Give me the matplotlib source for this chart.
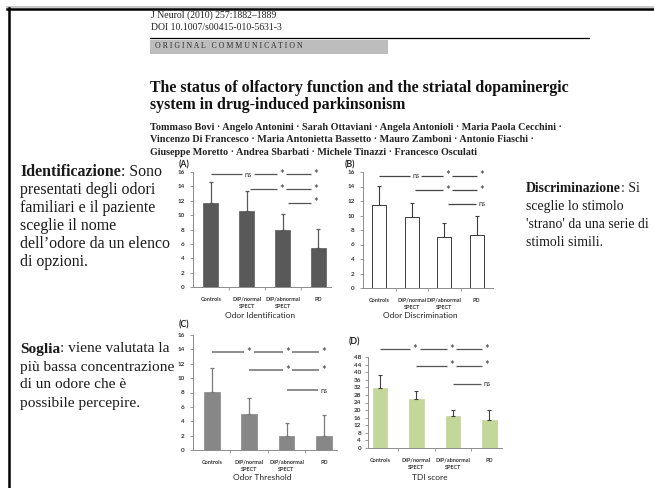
import matplotlib
matplotlib.use('Agg')
import matplotlib.pyplot as plt
from matplotlib.patches import Rectangle
from matplotlib.lines import Line2D

# ---------------- data ----------------
categories = ['Controls', 'DIP/normal\nSPECT', 'DIP/abnormal\nSPECT', 'PD']

ident_mean = [11.7, 10.6, 8.0, 5.4]
ident_err = [2.9, 2.7, 2.1, 2.7]
discr_mean = [11.5, 9.8, 7.0, 7.3]
discr_err = [2.6, 1.9, 1.9, 2.6]
thresh_mean = [8.1, 5.0, 1.9, 1.9]
thresh_err = [3.3, 2.3, 1.9, 3.0]
tdi_mean = [31.4, 25.6, 16.9, 15.0]
tdi_err = [7.2, 4.7, 3.3, 5.0]

ident_sig = [['ns', '*', '*'], ['*', '*'], ['*']]
discr_sig = [['ns', '*', '*'], ['*', '*'], ['ns']]
thresh_sig = [['*', '*', '*'], ['*', '*'], ['ns']]
tdi_sig = [['*', '*', '*'], ['*', '*'], ['ns']]

ident_ticks = list(range(0, 17, 2))
tdi_ticks = list(range(0, 49, 4))

panel_letters = ['(A)', '(B)', '(C)', '(D)']
panel_titles = ['Odor Identification', 'Odor Discrimination', 'Odor Threshold', 'TDI score']

# ---------------- figure ----------------
W, H = 654, 488
fig = plt.figure(figsize=(W / 100, H / 100), dpi=100)
fig.patch.set_facecolor('white')


def fx(x):
    return x / W


def fy(y):
    return 1 - y / H


SERIF = ['Liberation Serif', 'DejaVu Serif']
SANS = ['Lato', 'DejaVu Sans']

# frame
fig.add_artist(Line2D([fx(7), fx(654)], [fy(6.5), fy(6.5)], color='#bdbdbd', lw=1.2))
fig.add_artist(Line2D([fx(7), fx(654)], [fy(8.5), fy(8.5)], color='black', lw=1.8))
fig.add_artist(Line2D([fx(8.5), fx(8.5)], [fy(8), fy(488)], color='black', lw=1.8))

# header
fig.text(fx(151), fy(15.5), 'J Neurol (2010) 257:1882\u20131889', family=SERIF, fontsize=7.0,
         va='center', ha='left', color='#222222')
fig.text(fx(151), fy(27), 'DOI 10.1007/s00415-010-5631-3', family=SERIF, fontsize=7.0,
         va='center', ha='left', color='#222222')
fig.add_artist(Line2D([fx(150), fx(589)], [fy(38), fy(38)], color='black', lw=0.9))
fig.add_artist(Rectangle((fx(150), fy(54)), fx(388) - fx(150), fy(40) - fy(54),
                         transform=fig.transFigure, facecolor='#bdbdbd', edgecolor='none'))
fig.text(fx(155), fy(46.5), 'O R I G I N A L   C O M M U N I C A T I O N', family=SERIF,
         fontsize=5.6, va='center', ha='left', color='#2a2a2a')
fig.text(fx(150), fy(88), 'The status of olfactory function and the striatal dopaminergic',
         family=SERIF, fontsize=11.4, weight='bold', va='center', ha='left', color='#111111')
fig.text(fx(150), fy(105), 'system in drug-induced parkinsonism',
         family=SERIF, fontsize=11.4, weight='bold', va='center', ha='left', color='#111111')
authors = ['Tommaso Bovi \u00b7 Angelo Antonini \u00b7 Sarah Ottaviani \u00b7 Angela Antonioli \u00b7 Maria Paola Cecchini \u00b7',
           'Vincenzo Di Francesco \u00b7 Maria Antonietta Bassetto \u00b7 Mauro Zamboni \u00b7 Antonio Fiaschi \u00b7',
           'Giuseppe Moretto \u00b7 Andrea Sbarbati \u00b7 Michele Tinazzi \u00b7 Francesco Osculati']
for i, line in enumerate(authors):
    fig.text(fx(150), fy(127.5 + 12.3 * i), line, family=SERIF, fontsize=7.3, weight='bold',
             va='center', ha='left', color='#222222')

renderer = fig.canvas.get_renderer()


def rich_line(x, y, parts, fs):
    for txt, wt in parts:
        t = fig.text(fx(x), fy(y), txt, family=SERIF, fontsize=fs, weight=wt,
                     va='center', ha='left', color='#1a1a1a', zorder=2)
        bb = t.get_window_extent(renderer)
        x += bb.width


left_block1 = [[('Identificazione', 'bold'), (': Sono', 'normal')],
               [('presentati degli odori', 'normal')],
               [('familiari e il paziente', 'normal')],
               [('sceglie il nome', 'normal')],
               [('dell\u2019odore da un elenco', 'normal')],
               [('di opzioni.', 'normal')]]
for i, parts in enumerate(left_block1):
    rich_line(20, 172 + 18 * i, parts, 11.4)

left_block2 = [[('Soglia', 'bold'), (': viene valutata la', 'normal')],
               [('pi\u00f9 bassa concentrazione', 'normal')],
               [('di un odore che \u00e8', 'normal')],
               [('possibile percepire.', 'normal')]]
for i, parts in enumerate(left_block2):
    rich_line(20, 349 + 18 * i, parts, 11.1)

right_block = [[('Discriminazione', 'bold'), (': Si', 'normal')],
               [('sceglie lo stimolo', 'normal')],
               [('\'strano\' da una serie di', 'normal')],
               [('stimoli simili.', 'normal')]]
for i, parts in enumerate(right_block):
    rich_line(526, 188 + 18 * i, parts, 9.9)


# ---------------- panels ----------------
def make_axes(left, right, y0, ytop, xlim, ylim_top_val):
    ax = fig.add_axes([fx(left), fy(y0), fx(right) - fx(left), fy(ytop) - fy(y0)])
    ax.set_xlim(*xlim)
    ax.set_ylim(0, ylim_top_val)
    ax.patch.set_alpha(0)
    for s in ['top', 'right']:
        ax.spines[s].set_visible(False)
    for s in ['left', 'bottom']:
        ax.spines[s].set_color('#8c8c8c')
        ax.spines[s].set_linewidth(0.7)
    return ax


def style_ticks(ax, yticks):
    ax.set_yticks(yticks)
    ax.set_yticklabels([str(v) for v in yticks], family=SANS, fontsize=4.6,
                       weight='bold', color='#333333')
    ax.tick_params(axis='y', length=2, width=0.6, color='#8c8c8c', pad=4)
    ax.set_xticks(range(len(categories)))
    ax.set_xticklabels(categories, family=SANS, fontsize=4.0, weight='bold',
                       color='#333333', linespacing=1.5, va='top')
    ax.tick_params(axis='x', length=0, pad=7)
    ax.set_xticks([0.5, 1.5, 2.5], minor=True)
    ax.tick_params(axis='x', which='minor', length=2, width=0.6, color='#8c8c8c')


def sig_rows(ax, rows, ys, starts, label_pos, color, lw=0.8):
    for labels, y, start in zip(rows, ys, starts):
        prev = start
        n = len(labels)
        positions = label_pos[len(label_pos) - n:]
        for lab, p in zip(labels, positions):
            gap = 0.17 if lab == 'ns' else 0.13
            ax.plot([prev, p - gap], [y, y], color=color, lw=lw, clip_on=False,
                    solid_capstyle='butt')
            if lab == '*':
                ax.text(p, y, '*', ha='center', va='center', fontsize=8, family=SANS,
                        color='#333333', clip_on=False)
            else:
                ax.text(p, y, 'ns', ha='center', va='center', fontsize=5.2, family=SANS,
                        color='#333333', clip_on=False)
            prev = p + gap


x = list(range(len(categories)))

# (A)
axA = make_axes(193, 331, 287, 172, (-0.5, 3.35), 16)
axA.bar(x, ident_mean, width=0.42, color='#595959', edgecolor='#595959', lw=0.5)
axA.errorbar(x, ident_mean, yerr=[[0] * 4, ident_err], fmt='none', ecolor='#595959',
             elinewidth=0.9, capsize=1.6, capthick=0.9)
style_ticks(axA, ident_ticks)
sig_rows(axA, ident_sig, [15.7, 13.6, 11.7], [0, 1.1, 2.15], [1.03, 1.97, 2.93], '#555555', lw=0.9)

# (B)
axB = make_axes(363, 493, 288, 172, (-0.5, 3.5), 16)
axB.bar(x, discr_mean, width=0.43, color='white', edgecolor='#3a3a3a', lw=0.7)
axB.errorbar(x, discr_mean, yerr=[[0] * 4, discr_err], fmt='none', ecolor='#3a3a3a',
             elinewidth=0.8, capsize=1.6, capthick=0.8)
style_ticks(axB, ident_ticks)
sig_rows(axB, discr_sig, [15.5, 13.5, 11.6], [0, 1.1, 2.1], [1.12, 2.1, 3.15], '#444444', lw=0.9)

# (C)
axC = make_axes(193, 337, 450, 335, (-0.5, 3.35), 16)
axC.bar(x, thresh_mean, width=0.42, color='#878787', edgecolor='#878787', lw=0.5)
axC.errorbar(x, thresh_mean, yerr=[[0] * 4, thresh_err], fmt='none', ecolor='#7a7a7a',
             elinewidth=0.9, capsize=1.6, capthick=0.9)
style_ticks(axC, ident_ticks)
sig_rows(axC, thresh_sig, [13.6, 11.1, 8.3], [0, 1.0, 2.0], [1.0, 2.03, 3.0], '#6e6e6e', lw=1.1)

# (D)
axD = make_axes(368, 502, 448, 357, (-0.33, 3.35), 48)
axD.bar(x, tdi_mean, width=0.4, color='#c4d79b', edgecolor='#c4d79b', lw=0.5)
axD.errorbar(x, tdi_mean, yerr=[[0] * 4, tdi_err], fmt='none', ecolor='#404040',
             elinewidth=0.8, capsize=1.6, capthick=0.8)
style_ticks(axD, tdi_ticks)
axD.tick_params(axis='y', pad=3)
sig_rows(axD, tdi_sig, [52, 43.5, 34], [0, 1.0, 2.0], [0.96, 1.97, 2.93], '#555555', lw=0.9)

# panel letters and titles
for (px_, py_), lab in zip([(184, 165), (350, 165), (184, 325), (354, 342)], panel_letters):
    fig.text(fx(px_), fy(py_), lab, family=SANS, fontsize=6.3, weight='bold',
             ha='center', va='center', color='#222222')
for (px_, py_), lab in zip([(260, 316), (420, 316), (262, 478), (430, 478)], panel_titles):
    fig.text(fx(px_), fy(py_), lab, family=SANS, fontsize=6.0,
             ha='center', va='center', color='#222222')

fig.savefig('out.png', dpi=100)
